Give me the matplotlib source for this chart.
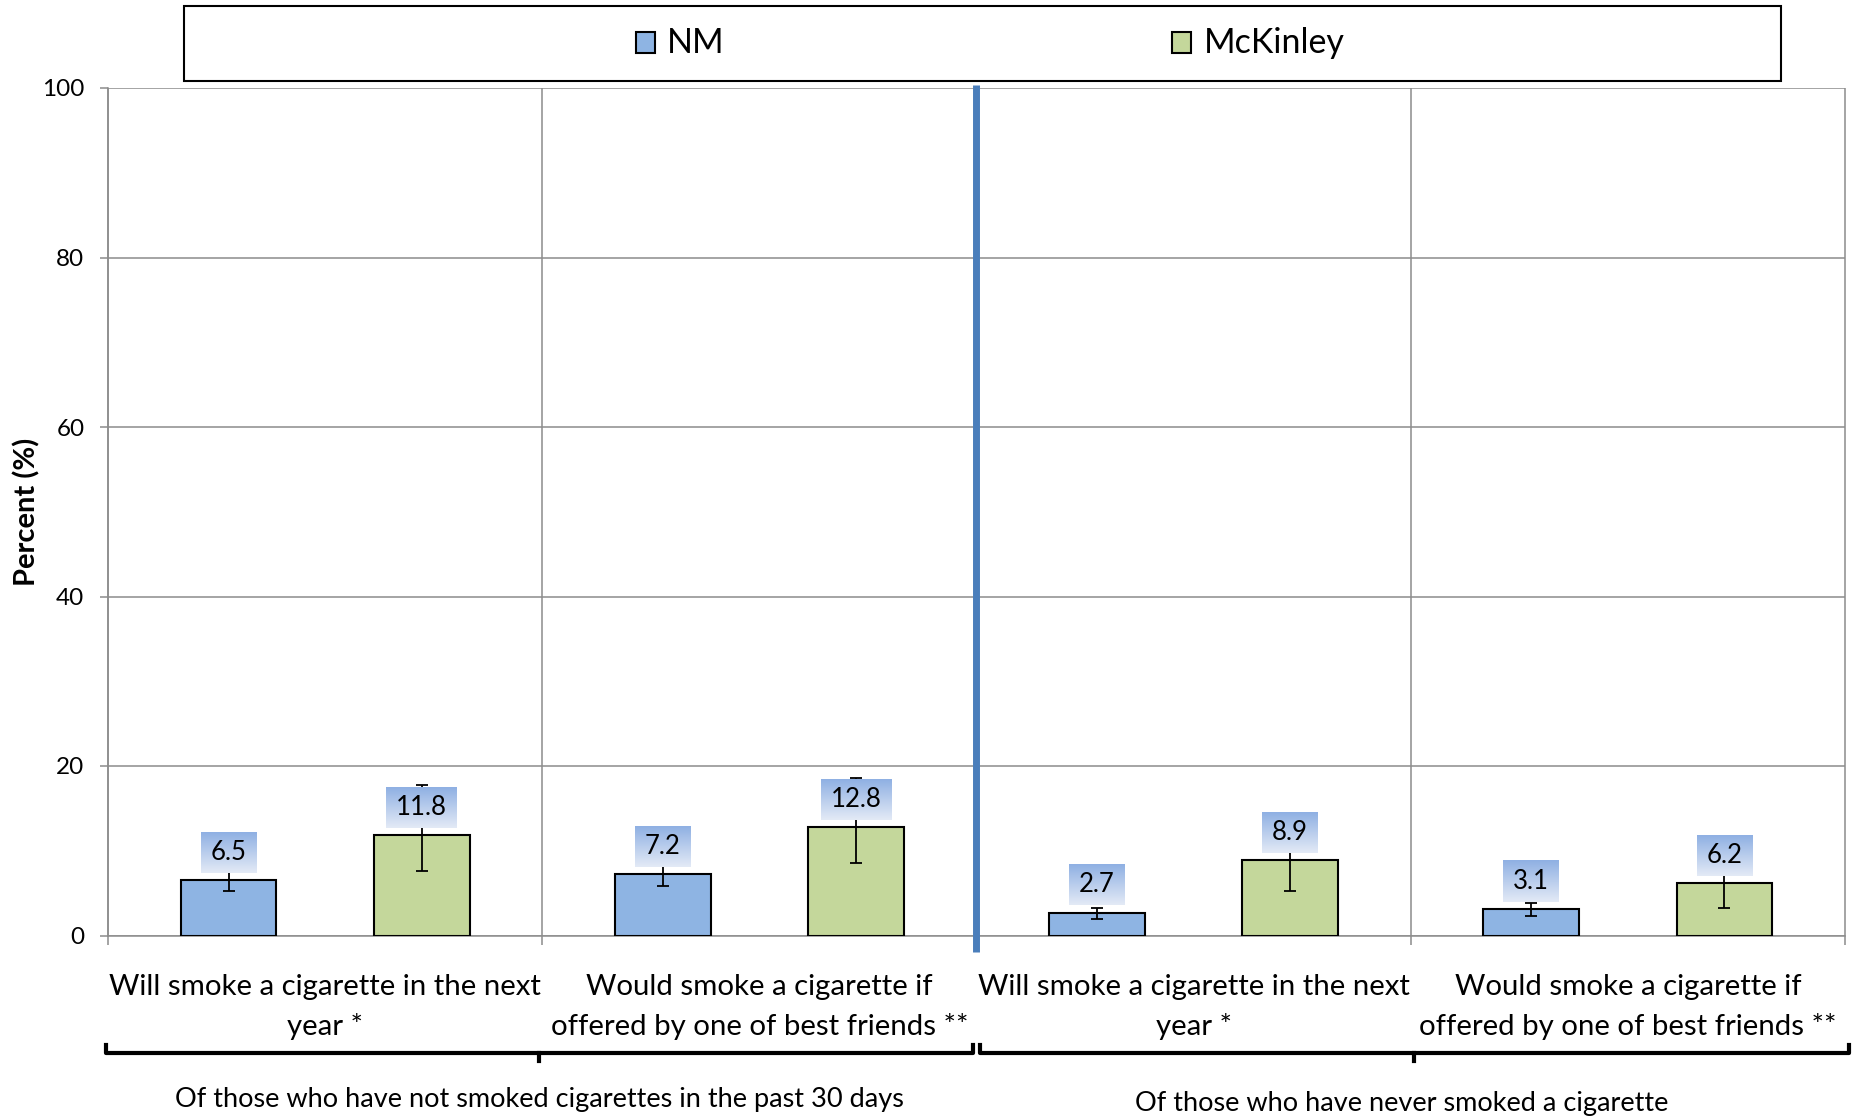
import numpy as np
import matplotlib
matplotlib.use('Agg')
import matplotlib.pyplot as plt
from matplotlib.patches import Rectangle
from matplotlib.lines import Line2D
from matplotlib.transforms import blended_transform_factory
from matplotlib.colors import to_rgb

plt.rcParams['font.family'] = ['Lato', 'DejaVu Sans']

# 数据
categories = ['Will smoke a cigarette in the next\nyear *',
              'Would smoke a cigarette if\noffered by one of best friends **',
              'Will smoke a cigarette in the next\nyear *',
              'Would smoke a cigarette if\noffered by one of best friends **']
groups = ['Of those who have not smoked cigarettes in the past 30 days',
          'Of those who have never smoked a cigarette']
series = ['NM', 'McKinley']
nm = [6.5, 7.2, 2.7, 3.1]
nm_lo = [5.3, 5.8, 2.0, 2.3]
nm_hi = [7.8, 8.7, 3.3, 3.8]
mck = [11.8, 12.8, 8.9, 6.2]
mck_lo = [7.6, 8.5, 5.2, 3.2]
mck_hi = [17.7, 18.6, 13.5, 9.5]
yticks = [0, 20, 40, 60, 80, 100]

c_nm = '#8eb4e3'
c_mck = '#c4d79b'
c_grid = '#8c8c8c'
c_div = '#4a7ebb'

fig = plt.figure(figsize=(18.58, 11.18), dpi=100)
ax = fig.add_axes([108/1858, 1-935.5/1118, 1737/1858, 847.5/1118])

x = np.arange(len(categories))
off, w = 0.2225, 0.221

ax.bar(x - off, nm, w, color=c_nm, edgecolor='black', linewidth=1.5, zorder=3)
ax.bar(x + off, mck, w, color=c_mck, edgecolor='black', linewidth=1.5, zorder=3)
ax.errorbar(x - off, nm, yerr=[np.subtract(nm, nm_lo), np.subtract(nm_hi, nm)],
            fmt='none', ecolor='black', elinewidth=1.3, capsize=4, capthick=1.3, zorder=4)
ax.errorbar(x + off, mck, yerr=[np.subtract(mck, mck_lo), np.subtract(mck_hi, mck)],
            fmt='none', ecolor='black', elinewidth=1.3, capsize=4, capthick=1.3, zorder=4)

ax.set_xlim(-0.5, len(categories) - 0.5)
ax.set_ylim(0, 100)
ax.set_yticks(yticks)
ax.set_yticklabels([str(v) for v in yticks], fontsize=17.5)
ax.tick_params(axis='y', length=6, width=1.1, color=c_grid, pad=11)
ax.set_xticks([])
for s in ['top', 'right']:
    ax.spines[s].set_visible(False)
for s in ['left', 'bottom']:
    ax.spines[s].set_color(c_grid)
    ax.spines[s].set_linewidth(1.1)
ax.yaxis.grid(True, color=c_grid, linewidth=1.1, zorder=0)
ax.set_axisbelow(True)

# 分类边界线
bounds = np.arange(len(categories) + 1) - 0.5
ax.vlines(bounds, -1.1, 100, color=c_grid, linewidth=1.1, clip_on=False, zorder=1)
ax.vlines(1.5, -2, 100.4, color=c_div, linewidth=5, clip_on=False, zorder=6)

ax.set_ylabel('Percent (%)', fontsize=21, fontweight='bold')
ax.yaxis.set_label_coords(-0.039, 0.5)

# 分类标签
bt = blended_transform_factory(ax.transData, fig.transFigure)
for i, lab in enumerate(categories):
    lines = lab.split('\n')
    for j, ln in enumerate(lines):
        ax.text(i, 1 - (987 + 39*j)/1118, ln, transform=bt, ha='center', va='center', fontsize=21.2)

# 括号
br = [(-0.505, 1.492), (1.508, 3.509)]
for (a, b), g, gy in zip(br, groups, [1100, 1104]):
    y0, y1 = 1 - 1053/1118, 1 - 1045/1118
    ax.add_line(Line2D([a, a, b, b], [y1, y0, y0, y1], transform=bt, color='black',
                       linewidth=3, solid_joinstyle='round', clip_on=False))
    m = (a + b) / 2
    ax.add_line(Line2D([m, m], [y0, 1 - 1061/1118], transform=bt, color='black',
                       linewidth=3, clip_on=False))
    ax.text(m - (0.03 if gy == 1104 else 0), 1 - gy/1118, g, transform=bt,
            ha='center', va='center', fontsize=19.5)

# 数据标签
texts = []
for xs, vals in [(x - off, nm), (x + off, mck)]:
    for xi, v in zip(xs, vals):
        t = ax.annotate(f'{v}', xy=(xi, v), xytext=(0, 20), textcoords='offset points',
                        ha='center', va='center', fontsize=18.5, zorder=8)
        texts.append((t, xi, v))

fig.canvas.draw()
renderer = fig.canvas.get_renderer()
top, bot = np.array(to_rgb('#8fb0e3')), np.array(to_rgb('#e3eaf6'))
grad = np.linspace(0, 1, 64)[:, None, None] * (bot - top) + top
grad = np.repeat(grad, 2, axis=1)
inv = ax.transData.inverted()
for t, xi, v in texts:
    bb = t.get_window_extent(renderer)
    px, py = ax.transData.transform((xi, v))
    ay = py + 20 * 100 / 72
    cx = (bb.x0 + bb.x1) / 2
    (dx0, dy0) = inv.transform((cx - bb.width/2 - 10, ay - 20.5))
    (dx1, dy1) = inv.transform((cx + bb.width/2 + 10, ay + 20.5))
    ax.imshow(grad, extent=[dx0, dx1, dy0, dy1], aspect='auto', zorder=7,
              interpolation='bilinear')
ax.set_xlim(-0.5, len(categories) - 0.5)
ax.set_ylim(0, 100)

# 图例
fig.patches.append(Rectangle((184/1858, 1 - 81/1118), 1597/1858, 75/1118, transform=fig.transFigure,
                             fill=False, edgecolor='black', linewidth=1.5))
for name, col, mx, tx in zip(series, [c_nm, c_mck], [636, 1172], [667, 1204]):
    fig.patches.append(Rectangle((mx/1858, 1 - 53/1118), 19/1858, 21/1118, transform=fig.transFigure,
                                 facecolor=col, edgecolor='black', linewidth=1.5))
    fig.text(tx/1858, 1 - 43/1118, name, ha='left', va='center', fontsize=24.5)

plt.savefig('out.png', dpi=100)
